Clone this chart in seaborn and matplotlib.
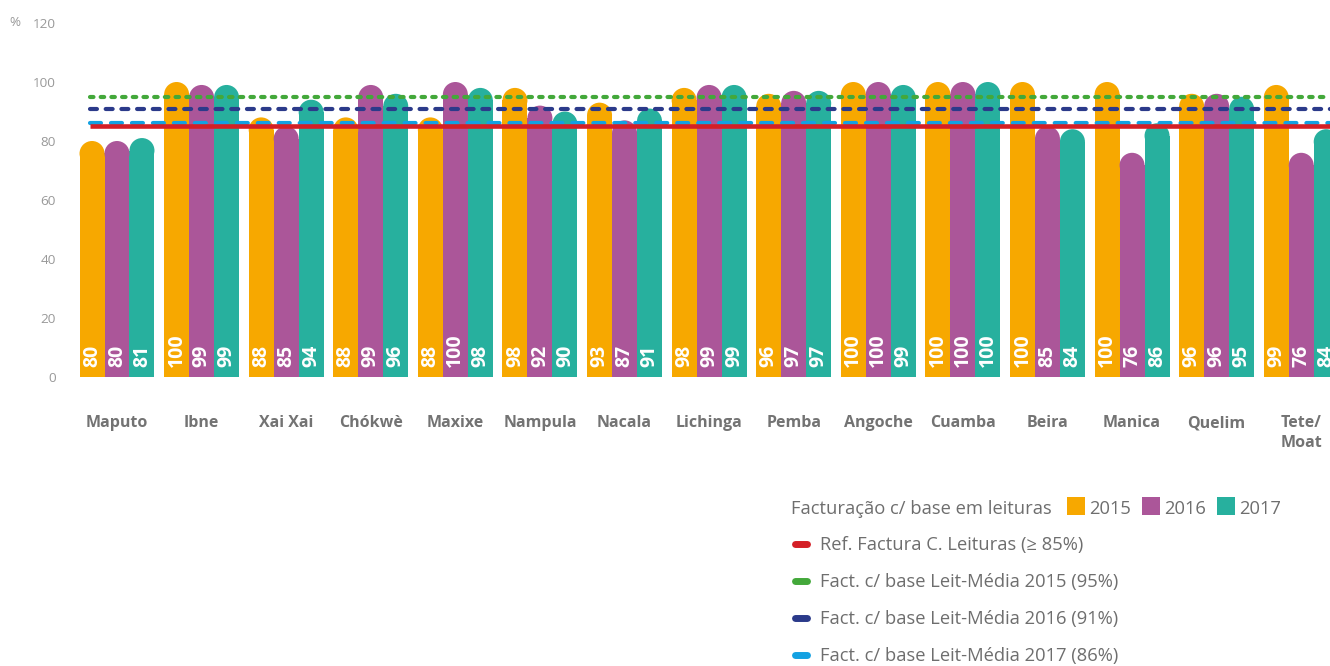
import numpy as np
import pandas as pd
import matplotlib
matplotlib.use("Agg")
import matplotlib.pyplot as plt
import seaborn as sns
from matplotlib.patches import Ellipse, Rectangle
from matplotlib.lines import Line2D

# ---- data -------------------------------------------------------------
cidades = ["Maputo", "Ibne", "Xai Xai", "Chókwè", "Maxixe", "Nampula", "Nacala",
           "Lichinga", "Pemba", "Angoche", "Cuamba", "Beira", "Manica", "Quelim",
           "Tete/\nMoat"]
anos = ["2015", "2016", "2017"]
v2015 = [80, 100, 88, 88, 88, 98, 93, 98, 96, 100, 100, 100, 100, 96, 99]
v2016 = [80, 99, 85, 99, 100, 92, 87, 99, 97, 100, 100, 85, 76, 96, 76]
v2017 = [81, 99, 94, 96, 98, 90, 91, 99, 97, 99, 100, 84, 86, 95, 84]

ref_leituras = 85
media_2015 = 95
media_2016 = 91
media_2017 = 86

legend_title = "Facturação c/ base em leituras"
legend_lines = ["Ref. Factura C. Leituras (≥ 85%)",
                "Fact. c/ base Leit-Média 2015 (95%)",
                "Fact. c/ base Leit-Média 2016 (91%)",
                "Fact. c/ base Leit-Média 2017 (86%)"]

# ---- style ------------------------------------------------------------
sns.set_style("white")
plt.rcParams["font.family"] = ["Open Sans", "DejaVu Sans"]
plt.rcParams["lines.scale_dashes"] = False

c_bars = ["#F7A800", "#AB5699", "#27B09E"]
c_ref = "#D41F26"
c_m15 = "#43A83A"
c_m16 = "#2B3A8A"
c_m17 = "#13A1E2"
grey_txt = "#6E6E6E"
grey_tick = "#999999"

W, H = 1330, 666
fig = plt.figure(figsize=(W / 100, H / 100), dpi=100)

def fx(px):
    return px / W

def fy(py):
    return 1 - py / H

ax_left, ax_right, ax_top, ax_bot = 78, 1330, 23, 377
ax = fig.add_axes([fx(ax_left), fy(ax_bot), fx(ax_right - ax_left), (ax_bot - ax_top) / H])

df = pd.DataFrame({
    "cidade": cidades * 3,
    "ano": [a for a in anos for _ in cidades],
    "valor": v2015 + v2016 + v2017,
})

sns.barplot(data=df, x="cidade", y="valor", hue="ano", palette=c_bars,
            width=0.886, saturation=1, errorbar=None, legend=False,
            linewidth=0, ax=ax)

ax.set_ylim(0, 120)
ax.set_xlim(-0.461, 14.34)
ax.set_yticks(np.arange(0, 121, 20))
ax.set_xlabel("")
ax.set_ylabel("")
sns.despine(ax=ax, left=True, bottom=True)
ax.tick_params(axis="y", length=0, pad=16, labelsize=9.7, labelcolor=grey_tick)
ax.tick_params(axis="x", length=0, pad=27.5, labelsize=11.5, labelcolor="#737373")
for t in ax.get_xticklabels():
    t.set_fontweight("bold")
    t.set_linespacing(1.3)
    t.set_va("top")

# rounded tops: shorten each bar by the cap radius and add a half-disc cap
fig.canvas.draw()
px_per_x = ax.transData.transform((1, 0))[0] - ax.transData.transform((0, 0))[0]
px_per_y = ax.transData.transform((0, 1))[1] - ax.transData.transform((0, 0))[1]

values = [v2015, v2016, v2017]
bars = list(ax.patches)
for k, bar in enumerate(bars):
    year_idx, city_idx = divmod(k, len(cidades))
    v = values[year_idx][city_idx]
    x0 = bar.get_x()
    w = bar.get_width()
    r_y = (w / 2) * px_per_x / px_per_y
    bar.set_height(v - r_y)
    ax.add_patch(Ellipse((x0 + w / 2, v - r_y), w, 2 * r_y,
                         facecolor=bar.get_facecolor(), edgecolor="none", zorder=bar.get_zorder()))
    ax.text(x0 + w / 2, 3.3, f"{v}", rotation=90, ha="center", va="bottom",
            color="white", fontsize=14, fontweight="bold", zorder=5)

# reference lines
x_start = -0.32
x_end = 14.34
ax.hlines(media_2015, x_start, x_end, color=c_m15, lw=3.0, linestyles=(0, (2.5, 5.2)),
          capstyle="round", zorder=4)
ax.hlines(media_2016, x_start, x_end, color=c_m16, lw=3.0, linestyles=(0, (5.0, 6.3)),
          capstyle="round", zorder=4)
ax.hlines(media_2017, x_start, x_end, color=c_m17, lw=3.0, linestyles=(0, (7.9, 7.2)),
          capstyle="round", zorder=4)
ax.hlines(ref_leituras, x_start, x_end, color=c_ref, lw=3.3, linestyles="solid", zorder=4)

# unit label
fig.text(fx(9), fy(22), "%", ha="left", va="center", fontsize=9.7, color=grey_tick)

# ---- legend -----------------------------------------------------------
leg_fs = 13.2
fig.text(fx(791), fy(509), legend_title, ha="left", va="center",
         fontsize=leg_fs, color=grey_txt)
sq_x = [1067, 1142, 1217]
for sx, col, lab in zip(sq_x, c_bars, anos):
    fig.add_artist(Rectangle((fx(sx), fy(515)), fx(18), 18 / H, facecolor=col,
                             edgecolor="none", transform=fig.transFigure))
    fig.text(fx(sx + 22), fy(509), lab, ha="left", va="center", fontsize=leg_fs, color=grey_txt)

row_y = [545, 582, 619, 656]
for ry, col, lab in zip(row_y, [c_ref, c_m15, c_m16, c_m17], legend_lines):
    fig.add_artist(Line2D([fx(795), fx(807)], [fy(ry - 1), fy(ry - 1)], color=col, lw=5,
                          solid_capstyle="round", transform=fig.transFigure))
    fig.text(fx(820), fy(ry), lab, ha="left", va="center", fontsize=leg_fs, color=grey_txt)

fig.savefig("out.png", dpi=100)
